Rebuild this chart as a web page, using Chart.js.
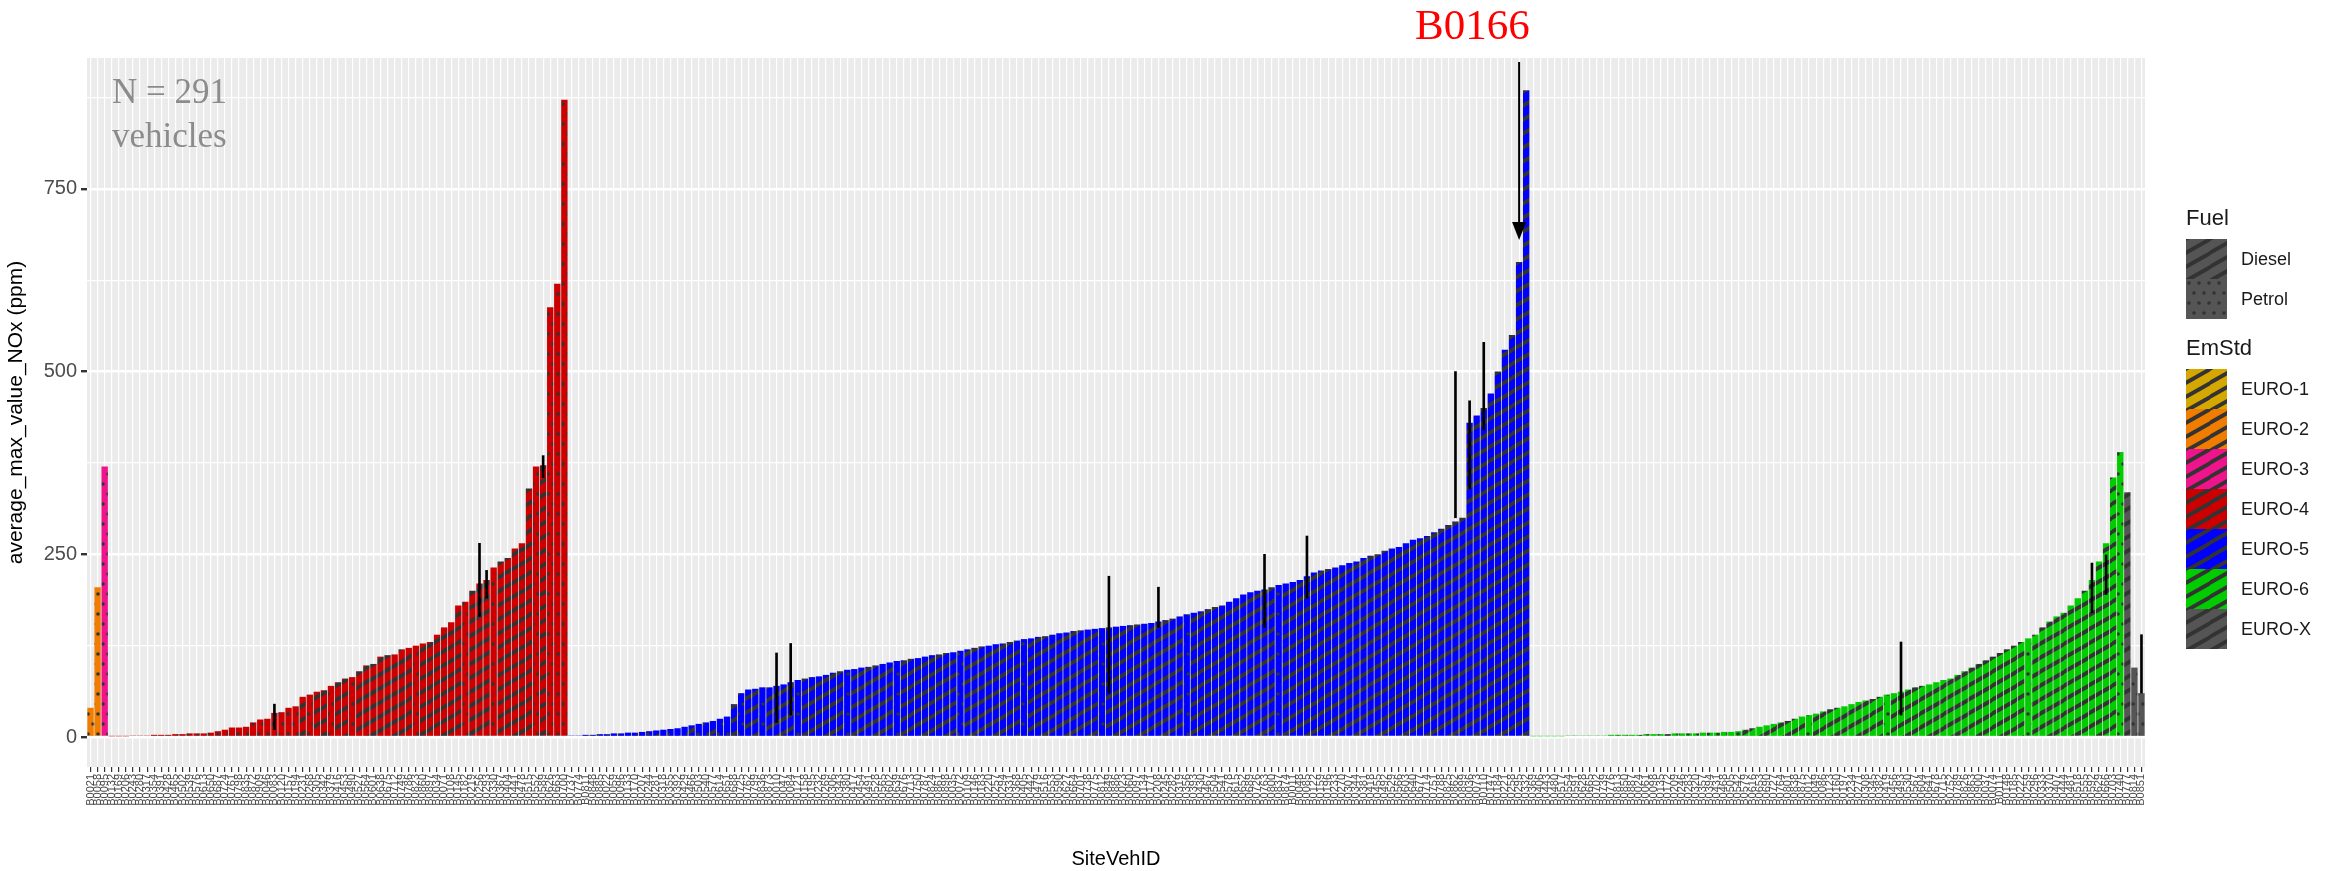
<!DOCTYPE html>
<html>
<head>
<meta charset="utf-8">
<script src="https://cdn.jsdelivr.net/npm/chart.js@4.4.1/dist/chart.umd.min.js"></script>
<style>
  html, body { margin: 0; padding: 0; background: #fff; }
  #wrap { position: relative; width: 2344px; height: 871px; }
  #legend { position: absolute; left: 2186px; top: 205px; font-family: Arial, "Liberation Sans", sans-serif; color: #1a1a1a; }
  .ltitle { font-size: 22px; margin: 0 0 8px 0; }
  .lrow { display: flex; align-items: center; height: 40px; }
  .lrow canvas { display: block; }
  .lrow span { font-size: 18px; margin-left: 14px; }
  .note { position: absolute; font-family: "Liberation Serif", "DejaVu Serif", serif; }
</style>
</head>
<body>
<div id="wrap">
  <canvas id="chart" width="2344" height="871"></canvas>
  <div class="note" style="left:112px; top:70px; font-size:35px; line-height:44px; color:#8c8c8c;">N = 291<br>vehicles</div>
  <div class="note" style="left:1415px; top:0px; font-size:43px; color:#ff0000;">B0166</div>
  <div id="legend"></div>
</div>
<script>
// EmStd groups, values (ppm), sorted within each group
const emStds = ['EURO-1', 'EURO-2', 'EURO-3', 'EURO-4', 'EURO-5', 'EURO-6', 'EURO-X'];
const emColors = ['#d4a800', '#f07d00', '#f0148c', '#cc0000', '#0000ff', '#00cc00', '#555555'];

const euro1 = [];
const euro2 = [40, 205];
const euro3 = [370];
const euro4 = [1,1,1,2,2,2,3,3,3,4, 4,5,5,5,6,8,10,13,13,14, 20,24,25,33,34,40,42,55,58,62,
  64,70,75,80,82,90,98,100,110,112, 113,120,122,125,128,130,140,150,157,180,
  185,200,210,215,232,240,245,258,265,340, 370,372,588,620,872];
const euro5 = [2,2,3,3,4,4,5,5,6,6,7,8,9,10,11,12,14,16,18,20, 22,25,28,45,60,
  65,66,68,68,70,72,75,78,80,82,83,85,88,90,92,93,95,96,98,100,102,104,105,107,108,
  110,112,113,115,116,118,120,122,124,125,127,128,130,132,134,135,137,138,140,142,
  143,145,146,147,148,149,150,151,152,153,154,155,156,158,160,162,165,168,170,172,
  175,178,180,185,190,195,198,200,202,205,208,210,212,215,220,225,228,230,232,235,
  238,240,245,248,250,255,258,260,265,270,272,275,280,285,290,295,300,
  430,440,450,470,500,530,550,650,885];
const euro6 = [1,1,1,1,1,2,2,2,2,2,2,3,3,3,3,3,4,4,4,4,5,5,5,5,6,6,6,7,7,8,
  10,12,14,16,18,20,22,25,28,30,32,35,38,40,42,45,48,50,52,55,
  58,60,62,65,68,70,72,75,78,80,85,90,95,100,105,110,115,120,125,130,
  135,140,150,158,165,170,180,190,200,215,240,265,355,390];
const euroX = [335, 95, 60];
const groupValues = [euro1, euro2, euro3, euro4, euro5, euro6, euroX];

// Fuel per bar: D = Diesel (stripes), P = Petrol (dots)
const fuel2 = 'PP';
const fuel3 = 'P';
const fuel4 = 'PPPPPPPPPPPPPPPPPPPPPPPPPPP' + 'DPDDPDDPDDDDDDDDPDDDDDDPDDDPDDDDDPDPPP';
const fuel5 = 'PPPDPPPPDPPPDPPDPDPPDPPDP' + 'DDPDDDDPDDDDDDPDDDDDDPDDDDDDDDPDDDDDDDDPDDDDDDDDDDPDDDDDDDDDDDPDDDDDDDDDDDDPDDDDDDDDDDDDDDDDDDDDDDDDDDDDDDDDDD' + 'DDDDDPPPP';
const fuel6 = 'PPPPPPDPPPPDPPPDPPPDPPPPDPPPDP' + 'DDDDDDDDDPDDDDDDDDDDPDDDDDDDDDDDDDDDDDDDPDDDDDDDDDDDDP';
const fuelX = 'DPP';
const groupFuel = ['', fuel2, fuel3, fuel4, fuel5, fuel6, fuelX];

// error bars: [bar index, low, high]
const errBars = [[26,10,45],[55,165,265],[56,190,228],[64,355,385],
  [97,20,115],[99,30,128],[144,60,220],[151,150,205],[166,150,250],[172,190,275],
  [193,300,500],[195,340,460],[197,420,540],
  [256,30,130],[283,170,238],[285,195,249],[290,60,140]];

// flatten groups into bars
const values = [], barGroup = [], barFuel = [], labels = [];
groupValues.forEach((arr, g) => {
  arr.forEach((v, i) => {
    values.push(v);
    barGroup.push(g);
    barFuel.push(groupFuel[g][i] || 'D');
  });
});
for (let i = 0; i < values.length; i++) {
  labels.push('B0' + String((i * 37 + 11) % 900 + 10).padStart(3, '0'));
}
const errData = values.map(() => null);
errBars.forEach(e => { if (e[0] < errData.length) errData[e[0]] = [e[1], e[2]]; });

// patterns: thick dark dashes for diesel, sparse dots for petrol
function makePattern(color, type) {
  const c = document.createElement('canvas');
  const ctx = c.getContext('2d');
  if (type === 'D') {
    const w = 24, h = 14;
    c.width = w; c.height = h;
    ctx.fillStyle = color; ctx.fillRect(0, 0, w, h);
    ctx.strokeStyle = '#333'; ctx.lineWidth = 4;
    for (let k = -1; k <= 1; k++) {
      ctx.beginPath(); ctx.moveTo(-4, h + k * h + 2); ctx.lineTo(w + 4, k * h - 2); ctx.stroke();
    }
  } else {
    c.width = 10; c.height = 20;
    ctx.fillStyle = color; ctx.fillRect(0, 0, 10, 20);
    ctx.fillStyle = '#333';
    ctx.beginPath(); ctx.arc(3, 4, 1.8, 0, Math.PI * 2); ctx.fill();
    ctx.beginPath(); ctx.arc(8, 14, 1.8, 0, Math.PI * 2); ctx.fill();
  }
  return c;
}
const mainCtx = document.getElementById('chart').getContext('2d');
const patterns = {};
emColors.forEach((col, g) => {
  patterns[g + 'D'] = mainCtx.createPattern(makePattern(col, 'D'), 'repeat');
  patterns[g + 'P'] = mainCtx.createPattern(makePattern(col, 'P'), 'repeat');
});
const bgColors = values.map((v, i) => patterns[barGroup[i] + barFuel[i]]);

// grey panel behind the bars
const panelBg = {
  id: 'panelBg',
  beforeDraw(chart) {
    const a = chart.chartArea, ctx = chart.ctx;
    ctx.save(); ctx.fillStyle = '#ebebeb';
    ctx.fillRect(a.left, a.top, a.right - a.left, a.bottom - a.top);
    ctx.restore();
  }
};
// arrow annotation onto B0166
const arrow = {
  id: 'arrow',
  afterDatasetsDraw(chart) {
    const xs = chart.scales.x, ys = chart.scales.y, ctx = chart.ctx;
    const idx = 68 + 134;
    const x = xs.getPixelForValue(idx);
    const yTip = ys.getPixelForValue(680);
    ctx.save(); ctx.strokeStyle = '#000'; ctx.fillStyle = '#000'; ctx.lineWidth = 2;
    ctx.beginPath(); ctx.moveTo(x, 62); ctx.lineTo(x, yTip - 14); ctx.stroke();
    ctx.beginPath(); ctx.moveTo(x - 7, yTip - 18); ctx.lineTo(x + 7, yTip - 18); ctx.lineTo(x, yTip); ctx.closePath(); ctx.fill();
    ctx.restore();
  }
};

new Chart(mainCtx, {
  type: 'bar',
  data: {
    labels: labels,
    datasets: [
      { data: values, backgroundColor: bgColors, borderWidth: 0, barPercentage: 0.9, categoryPercentage: 1.0, order: 2 },
      { data: errData, backgroundColor: '#000', barThickness: 2, grouped: false, order: 1 }
    ]
  },
  plugins: [panelBg, arrow],
  options: {
    responsive: false,
    animation: false,
    layout: { padding: { top: 58, right: 199, left: 0, bottom: 0 } },
    plugins: { legend: { display: false }, tooltip: { enabled: false } },
    scales: {
      x: {
        grid: { color: '#ffffff', lineWidth: 1.2, offset: false, drawTicks: true, tickColor: '#333', tickLength: 5 },
        border: { display: false },
        ticks: { autoSkip: false, minRotation: 90, maxRotation: 90, color: '#4d4d4d', font: { family: 'Arial', size: 11 }, padding: 2 },
        title: { display: true, text: 'SiteVehID', color: '#000', font: { family: 'Arial', size: 20 }, padding: { top: 2, bottom: 0 } },
        afterFit(s) { s.height = 104; }
      },
      y: {
        min: -41, max: 929,
        afterBuildTicks(s) { s.ticks = [0, 125, 250, 375, 500, 625, 750, 875].map(v => ({ value: v })); },
        grid: {
          color: '#ffffff',
          lineWidth: c => (c.tick && c.tick.value % 250 === 0 ? 2.4 : 1.2),
          tickColor: c => (c.tick && c.tick.value % 250 === 0 ? '#333' : 'rgba(0,0,0,0)'),
          tickLength: 6
        },
        border: { display: false },
        ticks: { color: '#4d4d4d', font: { family: 'Arial', size: 20 }, padding: 4,
          callback: v => (v % 250 === 0 ? v : '') },
        title: { display: true, text: 'average_max_value_NOx (ppm)', color: '#000', font: { family: 'Arial', size: 21 }, padding: { bottom: 4 } },
        afterFit(s) { s.width = 87; }
      }
    }
  }
});

// ggplot-style legend
function legendKey(canvasW, canvasH, color, type) {
  const c = document.createElement('canvas');
  c.width = canvasW; c.height = canvasH;
  const ctx = c.getContext('2d');
  ctx.fillStyle = ctx.createPattern(makePattern(color, type), 'repeat');
  ctx.fillRect(0, 0, canvasW, canvasH);
  return c;
}
function addSection(title, items, topMargin) {
  const lg = document.getElementById('legend');
  const t = document.createElement('div');
  t.className = 'ltitle'; t.textContent = title; t.style.marginTop = topMargin + 'px';
  lg.appendChild(t);
  items.forEach(it => {
    const r = document.createElement('div'); r.className = 'lrow';
    r.appendChild(legendKey(41, 40, it.color, it.type));
    const s = document.createElement('span'); s.textContent = it.label; r.appendChild(s);
    lg.appendChild(r);
  });
}
addSection('Fuel', [{ label: 'Diesel', color: '#555555', type: 'D' }, { label: 'Petrol', color: '#555555', type: 'P' }], 0);
addSection('EmStd', emStds.map((n, i) => ({ label: n, color: emColors[i], type: 'D' })), 16);
</script>
</body>
</html>
